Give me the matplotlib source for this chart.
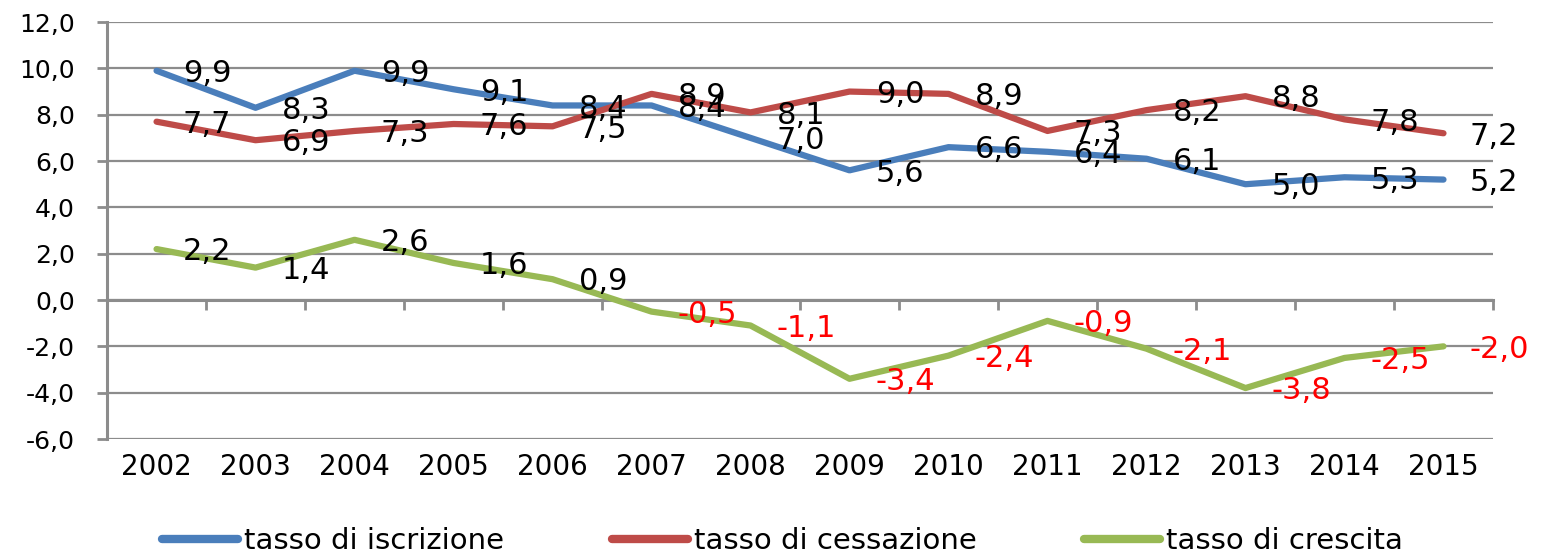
import matplotlib
matplotlib.use("Agg")
import matplotlib.pyplot as plt
import numpy as np

years = ["2002", "2003", "2004", "2005", "2006", "2007", "2008",
         "2009", "2010", "2011", "2012", "2013", "2014", "2015"]
iscrizione = [9.9, 8.3, 9.9, 9.1, 8.4, 8.4, 7.0, 5.6, 6.6, 6.4, 6.1, 5.0, 5.3, 5.2]
cessazione = [7.7, 6.9, 7.3, 7.6, 7.5, 8.9, 8.1, 9.0, 8.9, 7.3, 8.2, 8.8, 7.8, 7.2]
crescita = [2.2, 1.4, 2.6, 1.6, 0.9, -0.5, -1.1, -3.4, -2.4, -0.9, -2.1, -3.8, -2.5, -2.0]
series_names = ["tasso di iscrizione", "tasso di cessazione", "tasso di crescita"]
yticks = [-6, -4, -2, 0, 2, 4, 6, 8, 10, 12]

colors = ["#4A7EBB", "#BE4B48", "#98B954"]
grid_c = "#8C8C8C"

plt.rcParams['font.family'] = ['DejaVu Sans']

fig = plt.figure(figsize=(15.56, 5.52), dpi=100)
ax = fig.add_axes([0.0688, 0.2047, 0.8907, 0.7553])

x = np.arange(len(years))
for vals, col, name in zip([iscrizione, cessazione, crescita], colors, series_names):
    ax.plot(x, vals, color=col, lw=4.5, label=name, solid_capstyle='round',
            solid_joinstyle='round', zorder=3)
    for xi, v in zip(x, vals):
        tc = "#FF0000" if v < 0 else "black"
        ax.annotate(f"{v:.1f}".replace(".", ","), (xi, v), xytext=(19, -2),
                    textcoords="offset points", ha="left", va="center",
                    fontsize=22, color=tc, zorder=4)

ax.set_xlim(-0.5, len(years) - 0.5)
ax.set_ylim(-6, 12)
ax.set_yticks(yticks)
ax.set_yticklabels([f"{t:.1f}".replace(".", ",") for t in yticks], fontsize=18)
ax.yaxis.grid(True, color=grid_c, lw=1.6, zorder=1)
ax.set_axisbelow(True)

ax.set_xticks(x)
ax.set_xticklabels(years, fontsize=20)
ax.tick_params(axis='x', length=0, pad=10)
ax.tick_params(axis='y', length=7, width=2, color=grid_c, pad=16)

for s in ["top", "right", "bottom"]:
    ax.spines[s].set_visible(False)
ax.spines["left"].set_color(grid_c)
ax.spines["left"].set_linewidth(2.2)

# zero axis line with category tick marks
sec = ax.secondary_xaxis(6 / 18)
sec.set_xticks(x[:-1] + 0.5, minor=False)
sec.set_xticks([len(years) - 0.5], minor=True)
sec.tick_params(axis='x', which='both', length=7, width=2, color=grid_c, direction='out', labelbottom=False)
sec.set_xticklabels([])
sec.spines["bottom"].set_color(grid_c)
sec.spines["bottom"].set_linewidth(2.2)

leg = fig.legend(loc="center", bbox_to_anchor=(0.503, 0.02), ncol=3, frameon=False,
                 fontsize=21, handlelength=2.6, handletextpad=0.2, columnspacing=3.7)
for h in leg.get_lines():
    h.set_linewidth(6)

fig.savefig("out.png", dpi=100)
